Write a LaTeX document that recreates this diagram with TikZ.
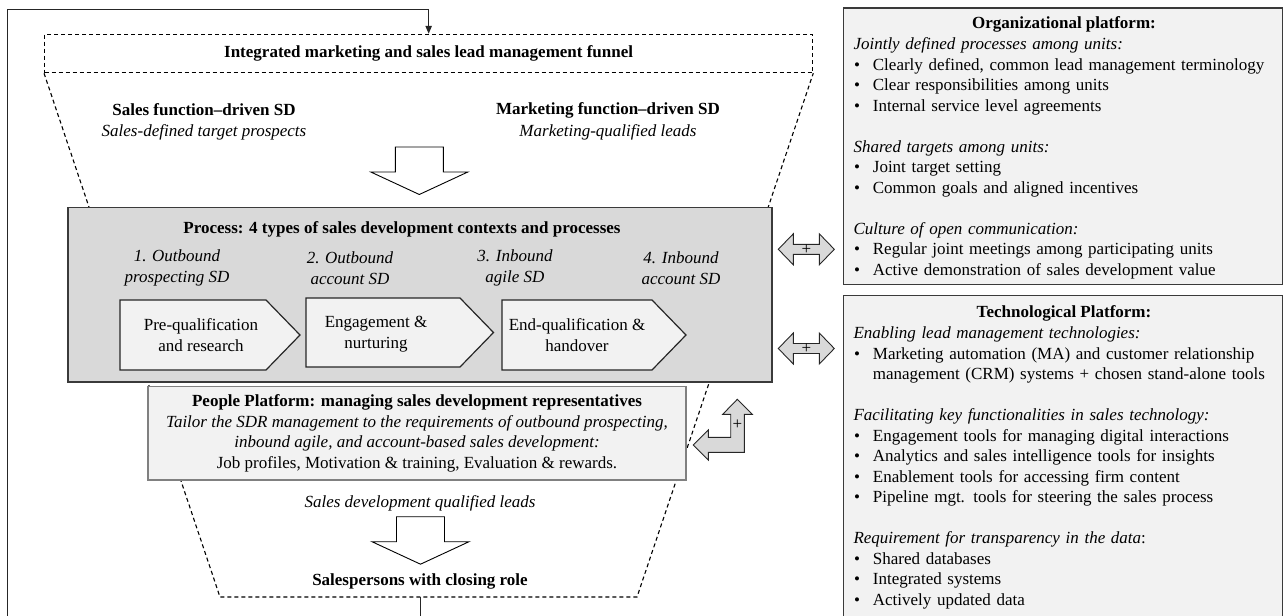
\documentclass[tikz,border=0pt]{standalone}
\usepackage{fontspec}
\setmainfont{Liberation Serif}
\usetikzlibrary{arrows.meta}

\definecolor{procfill}{HTML}{D9D9D9}
\definecolor{palefill}{HTML}{F2F2F2}
\definecolor{darkedge}{HTML}{3A3A3A}
\definecolor{midedge}{HTML}{808080}

\newcommand{\figfont}{\fontsize{17pt}{20.5pt}\selectfont}
\newcommand{\lbul}{\makebox[19.4pt][l]{\hspace{0.6pt}\textbullet}}
\newcommand{\lcont}{\hspace*{19.4pt}}

% hollow block arrow pointing down, from its top centre
\newcommand{\downblock}[1]{%
  \draw[hollowarrow] (#1) ++(-24,0) -- ++(48,0) -- ++(0,25) -- ++(24.5,0)
    -- ++(-48.5,22.5) -- ++(-48.5,-22.5) -- ++(24.5,0) -- cycle;}
% grey double block arrow, from its centre
\newcommand{\lrblock}[1]{%
  \draw[grayarrow] (#1) ++(-28,0) -- ++(15,-15.5) -- ++(0,10.5) -- ++(26,0)
    -- ++(0,-10.5) -- ++(15,15.5) -- ++(-15,15.5) -- ++(0,-10.5) -- ++(-26,0)
    -- ++(0,10.5) -- cycle;}

\tikzset{
  funneldash/.style={draw=black, line width=1.1pt, dash pattern=on 4pt off 3pt},
  loopline/.style={draw=black!85, line width=1pt},
  hollowarrow/.style={draw=black, line width=0.9pt, fill=white},
  grayarrow/.style={draw=black!85, line width=0.9pt, fill=procfill},
  procbox/.style={draw=darkedge, line width=1.6pt, fill=procfill},
  stepbox/.style={draw=black!85, line width=1.2pt, fill=palefill},
  peoplebox/.style={draw=midedge, line width=1.2pt, fill=palefill},
  platbox/.style={draw=darkedge, line width=1.4pt, fill=palefill},
  bold/.style={font=\figfont\bfseries},
  ital/.style={font=\figfont\itshape},
  listtext/.style={align=left, text width=425pt, inner sep=0pt},
}

\begin{document}
\begin{tikzpicture}[x=1pt, y=-1pt, font=\figfont, inner sep=0pt]
\useasboundingbox (0,0) rectangle (1283,616);
\clip (0,0) rectangle (1283,616);

% funnel
\node[funneldash, minimum width=768.1pt, minimum height=38.4pt, bold] (funneltop) at (428.65,53.5)
  {Integrated marketing and sales lead management funnel};
\coordinate (funnelbl) at (220,597);
\coordinate (funnelbr) at (637,597);
\draw[funneldash] (funneltop.south west) -- (funnelbl) -- (funnelbr) -- (funneltop.south east);

\node[bold] (salesfn) at (204,110) {Sales function--driven SD};
\node[ital] (salesfnsub) at (204,132) {Sales-defined target prospects};
\node[bold] (mktfn) at (608,110) {Marketing function--driven SD};
\node[ital] (mktfnsub) at (608,132) {Marketing-qualified leads};

\coordinate (inarrow) at (419.3,147);
\downblock{inarrow}

% process
\node[procbox, minimum width=704pt, minimum height=174.4pt] (process) at (420,294.5) {};
\node[bold] (proctitle) at (402,229) {Process: 4 types of sales development contexts and processes};
\node[ital, align=center] (type1) at (177,268) {1. Outbound\\prospecting SD};
\node[ital, align=center] (type2) at (350,268) {2. Outbound\\account SD};
\node[ital, align=center] (type3) at (515,268) {3. Inbound\\agile SD};
\node[ital, align=center] (type4) at (681,268) {4. Inbound\\account SD};

\draw[stepbox] (120,300) -- (266,300) -- (300,335) -- (266,370) -- (120,370) -- cycle;
\draw[stepbox] (306,298) -- (460,298) -- (493.5,332.5) -- (460,367) -- (306,367) -- cycle;
\draw[stepbox] (502,300) -- (652,300) -- (686,335) -- (652,370) -- (502,370) -- cycle;
\node[align=center] (prequal) at (201,335) {Pre-qualification\\and research};
\node[align=center] (engage) at (376,334) {Engagement \&\\nurturing};
\node[align=center] (endqual) at (577,335) {End-qualification \&\\handover};

% people platform
\node[peoplebox, minimum width=538pt, minimum height=93.3pt, align=center] (people) at (417,433.4)
  {{\bfseries People Platform: managing sales development representatives}\\
   {\itshape Tailor the SDR management to the requirements of outbound prospecting,}\\
   {\itshape inbound agile, and account-based sales development:}\\
   Job profiles, Motivation \& training, Evaluation \& rewards.};

\draw[grayarrow] (693.3,445) -- (708.3,430) -- (708.3,437.3) -- (730.7,437.3) -- (730.7,414.3)
  -- (722.7,414.3) -- (737.3,399.3) -- (752.3,414.3) -- (744.3,414.3) -- (744.3,452.3)
  -- (708.3,452.3) -- (708.3,460) -- cycle;
\node (peopleplus) at (737.3,425) {+};

\node[ital] (sdqleads) at (420,503) {Sales development qualified leads};
\coordinate (outarrow) at (420.5,516.7);
\downblock{outarrow}
\node[bold] (closers) at (420,581.7) {Salespersons with closing role};

% feedback loop
\coordinate (loopstart) at (420,597);
\draw[loopline, -{Triangle[length=8pt,width=6.5pt]}] (loopstart) -- (420,640) -| (7.3,9.3) -| (funneltop.north);

% platforms
\coordinate (orgplus) at (806.3,249.3);
\coordinate (techplus) at (806.3,348.5);
\lrblock{orgplus}
\lrblock{techplus}
\node at (orgplus) (orgplussign) {+};
\node at (techplus) (techplussign) {+};

\node[platbox, minimum width=439.3pt, minimum height=276.7pt, anchor=north west] (orgbox) at (842.7,7.3) {};
\node[bold] (orgtitle) at (1064,24) {Organizational platform:};
\node[listtext, anchor=north west] (orglist) at (853.3,35) {\strut\textit{Jointly defined processes among units:}\\
  \lbul Clearly defined, common lead management terminology\\
  \lbul Clear responsibilities among units\\
  \lbul Internal service level agreements\\[20.5pt]
  \textit{Shared targets among units:}\\
  \lbul Joint target setting\\
  \lbul Common goals and aligned incentives\\[20.5pt]
  \textit{Culture of open communication:}\\
  \lbul Regular joint meetings among participating units\\
  \lbul Active demonstration of sales development value};

\node[platbox, minimum width=439.3pt, minimum height=340pt, anchor=north west] (techbox) at (842.7,295) {};
\node[bold] (techtitle) at (1064,313.3) {Technological Platform:};
\node[listtext, anchor=north west] (techlist) at (853.3,324.2) {\strut\textit{Enabling lead management technologies:}\\
  \lbul Marketing automation (MA) and customer relationship\\
  \lcont management (CRM) systems + chosen stand-alone tools\\[20.5pt]
  \textit{Facilitating key functionalities in sales technology:}\\
  \lbul Engagement tools for managing digital interactions\\
  \lbul Analytics and sales intelligence tools for insights\\
  \lbul Enablement tools for accessing firm content\\
  \lbul Pipeline mgt. tools for steering the sales process\\[20.5pt]
  \textit{Requirement for transparency in the data}:\\
  \lbul Shared databases\\
  \lbul Integrated systems\\
  \lbul Actively updated data};
\end{tikzpicture}
\end{document}
